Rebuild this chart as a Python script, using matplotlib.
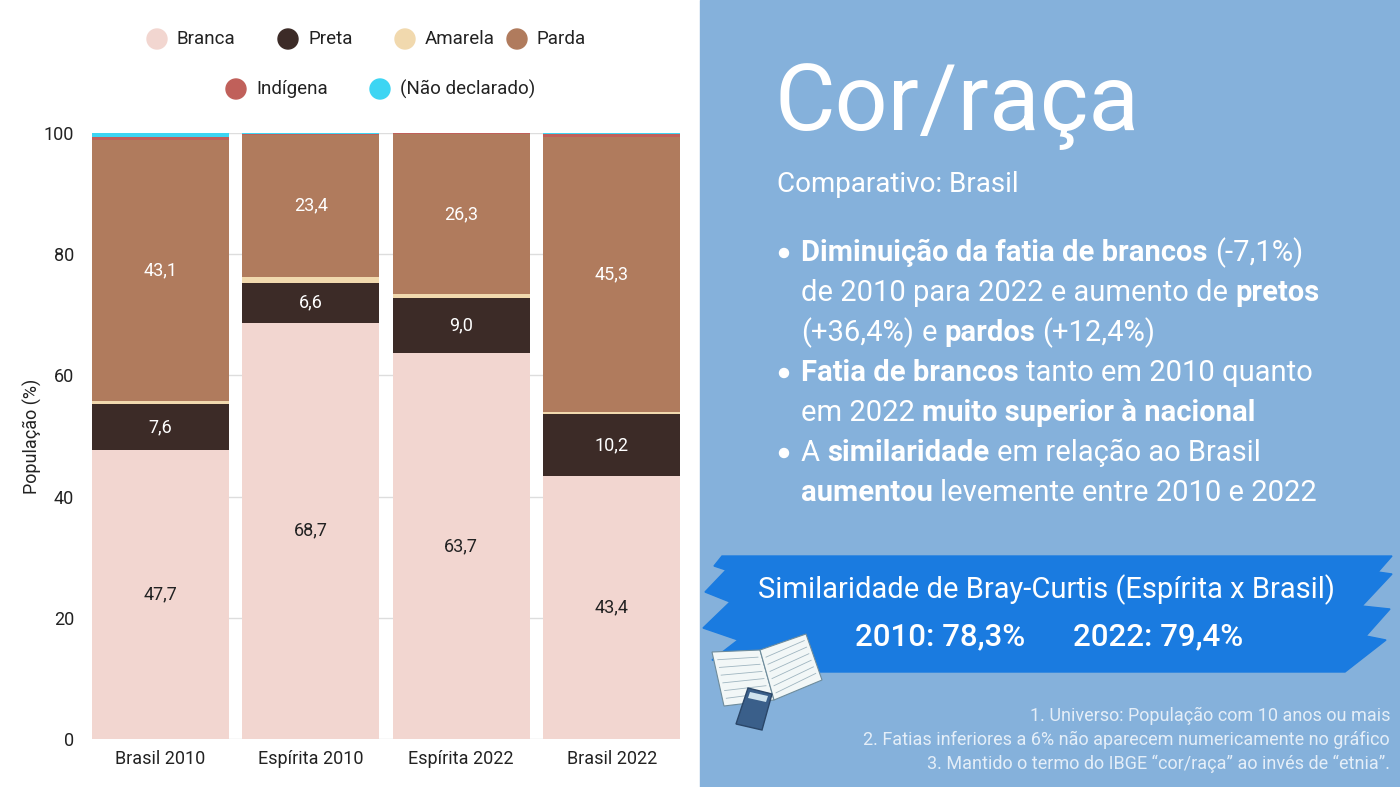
import matplotlib
matplotlib.use("Agg")
import matplotlib.pyplot as plt
from matplotlib.patches import Rectangle, Polygon, Circle
import numpy as np

plt.rcParams['font.family'] = ['Roboto', 'DejaVu Sans']

categories = ["Brasil 2010", "Espírita 2010", "Espírita 2022", "Brasil 2022"]
series_names = ["Branca", "Preta", "Amarela", "Parda", "Indígena", "(Não declarado)"]
branca = [47.7, 68.7, 63.7, 43.4]
preta = [7.6, 6.6, 9.0, 10.2]
amarela = [0.5, 1.0, 0.8, 0.4]
parda = [43.1, 23.4, 26.3, 45.3]
indigena = [0.4, 0.2, 0.2, 0.6]
nao_declarado = [0.7, 0.1, 0.0, 0.1]
series_values = [branca, preta, amarela, parda, indigena, nao_declarado]
colors = ["#F2D6D0", "#3C2B27", "#F1D9AE", "#B07B5D", "#C0605A", "#3DD5F3"]
label_colors = ["#222222", "white", "#222222", "white", "white", "white"]
yticks = [0, 20, 40, 60, 80, 100]

W, H = 1400, 787
fig = plt.figure(figsize=(14, 7.87), dpi=100)
fig.patch.set_facecolor("white")

# chart axes
ax = fig.add_axes([92 / W, (H - 739) / H, 588 / W, 606 / H])
x = np.arange(len(categories))
bottom = np.zeros(len(categories))
for vals, c, lc in zip(series_values, colors, label_colors):
    vals = np.array(vals)
    ax.bar(x, vals, bottom=bottom, width=0.907, color=c, zorder=3, linewidth=0)
    for xi, v, b in zip(x, vals, bottom):
        if v >= 6:
            ax.text(xi, b + v / 2, f"{v:.1f}".replace(".", ","), ha="center", va="center",
                    color=lc, fontsize=13, zorder=4)
    bottom += vals
ax.set_xlim(-0.4535, 3.4535)
ax.set_ylim(0, 100)
ax.set_yticks(yticks)
ax.set_yticklabels([str(t) for t in yticks], fontsize=13, color="#222222")
ax.set_xticks(x)
ax.set_xticklabels(categories, fontsize=13, color="#222222")
ax.tick_params(length=0, pad=8)
ax.tick_params(axis="y", pad=13)
for s in ax.spines.values():
    s.set_visible(False)
ax.yaxis.grid(True, color="#DDDDDD", linewidth=1, zorder=0)
ax.set_axisbelow(True)
ax.set_ylabel("População (%)", fontsize=13, color="#222222")
ax.yaxis.set_label_coords(-0.105 + 12 / 588, 0.5)

# overlay axes in pixel coords
ov = fig.add_axes([0, 0, 1, 1], zorder=-1)
ov.set_xlim(0, W)
ov.set_ylim(H, 0)
ov.axis("off")
ov2 = fig.add_axes([0, 0, 1, 1], zorder=5)
ov2.set_xlim(0, W)
ov2.set_ylim(H, 0)
ov2.axis("off")
ov2.patch.set_alpha(0)

ov.add_patch(Rectangle((700, 0), 700, H, color="#85B1DB", zorder=0))

# legend
legend_pos = [(157, 39), (288, 39), (405, 39), (517, 39), (236, 89), (380, 89)]
for (lx, ly), name, c in zip(legend_pos, series_names, colors):
    ov2.add_patch(Circle((lx, ly), 10, color=c, zorder=6))
    ov2.text(lx + 20, ly, name, ha="left", va="center", fontsize=13.5, color="#222222")

# title
ov2.text(775, 105, "Cor/raça", ha="left", va="center", fontsize=67, color="white")
ov2.text(777, 185, "Comparativo: Brasil", ha="left", va="center", fontsize=20,
         color="white")

renderer = fig.canvas.get_renderer()

def width_of(txt, **kw):
    t = ov2.text(0, 0, txt, **kw)
    w = t.get_window_extent(renderer).width
    t.remove()
    return w

bsize = 21
space_w = width_of("x x", fontsize=bsize) - width_of("xx", fontsize=bsize)

def rich(x0, y0, segs):
    xx = x0
    for txt, bold in segs:
        kw = dict(fontsize=bsize, color="white",
                  fontweight="bold" if bold else "normal")
        lead = len(txt) - len(txt.lstrip(" "))
        xx += lead * space_w
        core = txt.strip(" ")
        t = ov2.text(xx, y0, core, ha="left", va="center", **kw)
        xx += t.get_window_extent(renderer).width
        trail = len(txt) - len(txt.rstrip(" "))
        xx += trail * space_w

lines = [
    (253, True, [("Diminuição da fatia de brancos", True), (" (-7,1%)", False)]),
    (293, False, [("de 2010 para 2022 e aumento de ", False), ("pretos", True)]),
    (333, False, [("(+36,4%)", False), (" e ", False), ("pardos", True), (" (+12,4%)", False)]),
    (373, True, [("Fatia de brancos", True), (" tanto em 2010 quanto", False)]),
    (413, False, [("em 2022 ", False), ("muito superior à nacional", True)]),
    (453, True, [("A ", False), ("similaridade", True), (" em relação ao Brasil", False)]),
    (493, False, [("aumentou", True), (" levemente entre 2010 e 2022", False)]),
]
for ly, bullet, segs in lines:
    if bullet:
        ov2.add_patch(Circle((784, ly), 4.5, color="white", zorder=6))
    rich(801, ly, segs)

# brush band
band = [(722, 556), (1392, 556), (1378, 572), (1392, 574), (1362, 606), (1390, 609),
        (1366, 636), (1386, 640), (1345, 672), (820, 672), (760, 668), (712, 660),
        (738, 640), (703, 628), (730, 602), (705, 592), (726, 570), (714, 566)]
ov.add_patch(Polygon(band, closed=True, color="#1A7BE0", zorder=1))
ov2.text(1046, 590, "Similaridade de Bray-Curtis (Espírita x Brasil)", ha="center",
         va="center", fontsize=21, color="white")
ov2.text(940, 637, "2010: 78,3%", ha="center", va="center", fontsize=22.5, color="white",
         fontweight="medium")
ov2.text(1158, 637, "2022: 79,4%", ha="center", va="center", fontsize=22.5, color="white",
         fontweight="medium")

# book + calculator icon
book_l = [(712, 652), (760, 650), (774, 700), (724, 706)]
book_r = [(760, 650), (806, 634), (822, 680), (774, 700)]
ov2.add_patch(Polygon(book_l, closed=True, facecolor="#F2F7F7", edgecolor="#6E8C9C", lw=0.8, zorder=6))
ov2.add_patch(Polygon(book_r, closed=True, facecolor="#F2F7F7", edgecolor="#6E8C9C", lw=0.8, zorder=6))
for i in range(6):
    f = (i + 1) / 7
    ov2.plot([712 + 12 * f + 4, 760 + 14 * f - 4], [652 + 54 * f, 650 + 50 * f],
             color="#9FB5C0", lw=0.6, zorder=7)
    ov2.plot([760 + 14 * f + 4, 806 + 16 * f - 4], [650 + 50 * f, 634 + 46 * f],
             color="#9FB5C0", lw=0.6, zorder=7)
calc = [(748, 688), (772, 694), (762, 730), (736, 724)]
ov2.add_patch(Polygon(calc, closed=True, facecolor="#3A5F8A", edgecolor="#2A4668", lw=1, zorder=8))
ov2.add_patch(Polygon([(750, 692), (768, 696), (766, 702), (748, 698)], closed=True,
                      facecolor="#CFE3EE", zorder=9))

# footnotes
notes = ["1. Universo: População com 10 anos ou mais",
         "2. Fatias inferiores a 6% não aparecem numericamente no gráfico",
         "3. Mantido o termo do IBGE “cor/raça” ao invés de “etnia”."]
for i, n in enumerate(notes):
    ov2.text(1390, 716 + 24 * i, n, ha="right", va="center", fontsize=13,
             color="#E4EEF8")

fig.savefig("out.png", dpi=100, facecolor="white")
